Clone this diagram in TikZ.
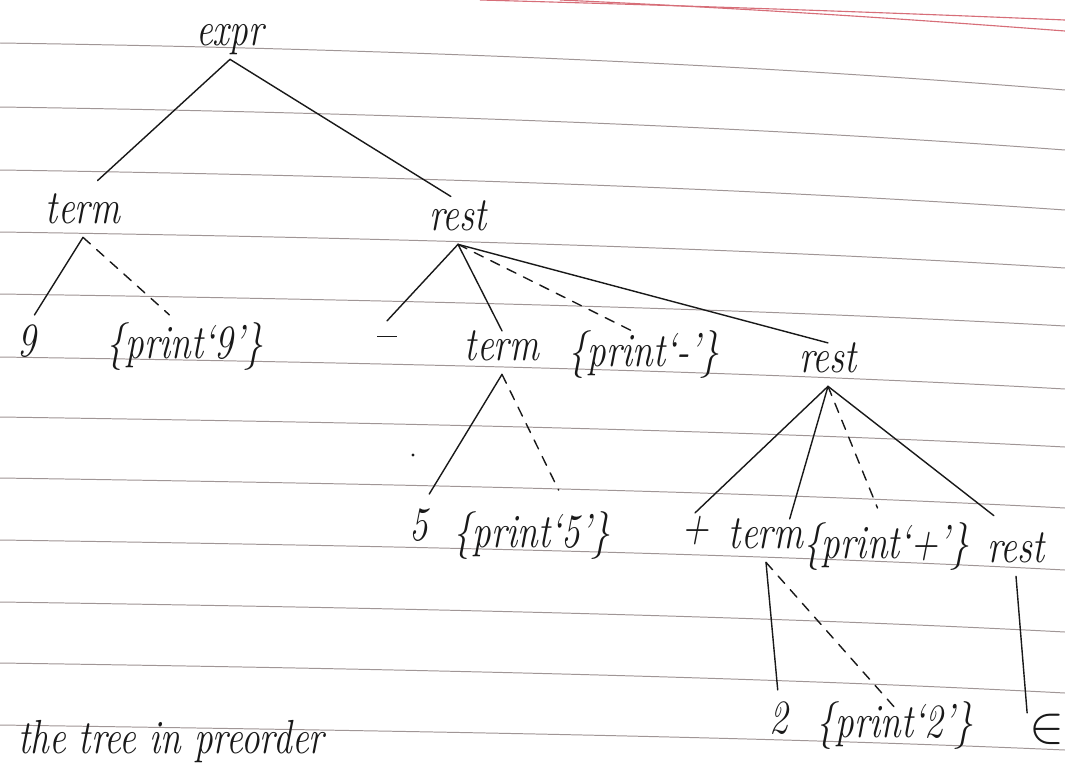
\documentclass[tikz,border=0pt]{standalone}
\usetikzlibrary{calc}
\definecolor{ink}{RGB}{25,25,25}
\definecolor{ruled}{RGB}{160,150,150}
\definecolor{marginred}{RGB}{215,110,120}
\newcommand\hs[1]{\scalebox{0.78}[1]{#1}}
\begin{document}
\begin{tikzpicture}[x=0.025cm,y=-0.025cm,
  hw/.style={font=\fontsize{34}{40}\selectfont\itshape, inner sep=1.5pt,
             text height=19pt, text depth=8.5pt, anchor=base, text=ink},
  edge/.style={draw=ink, line width=1pt, line cap=round},
  act/.style={edge, dash pattern=on 7pt off 6pt},
  rule/.style={draw=ruled, line width=0.7pt},
  redrule/.style={draw=marginred, line width=0.8pt}]
\useasboundingbox (0,0) rectangle (1065,764);
\clip (0,0) rectangle (1065,764);
\fill[white] (0,0) rectangle (1065,764);
% ruled paper
\foreach \y/\r in {43/47,107/43,170/40,232/36,294/32,357/32,417/30,478/30,540/30,602/30,663/30,725/25}
  \draw[rule] (0,\y) .. controls (400,{\y+6}) and (750,{\y+0.45*\r}) .. (1065,{\y+\r});
\draw[redrule] (480,0) .. controls (700,6) and (900,13) .. (1065,20);
\draw[redrule] (560,0) .. controls (760,9) and (920,20) .. (1065,31);

% nodes
\node[hw] (expr)  at (230,45)  {\hs{expr}};
\node[hw] (term1) at (83,223)  {\hs{term}};
\node[hw] (rest1) at (458,230) {\hs{rest}};
\node[hw] (nine)  at (27,356)  {\hs{9}};
\node[hw] (p9)    at (185,358) {\hs{\{print`9'\}}};
\node[hw] (minus) at (387,350) {\rule[9pt]{14pt}{1.1pt}};
\node[hw] (term2) at (502,360) {\hs{term}};
\node[hw] (pm)    at (644,366) {\hs{\{print`-'\}}};
\node[hw] (rest2) at (828,372) {\hs{rest}};
\node[hw] (five)  at (419,540) {\hs{5}};
\node[hw] (p5)    at (532,547) {\hs{\{print`5'\}}};
\node[hw] (plus)  at (695,542) {\hs{+}};
\node[hw] (term3) at (766,548) {\hs{term}};
\node[hw] (pp)    at (886,558) {\hs{\{print`+'\}}};
\node[hw] (rest3) at (1016,562) {\hs{rest}};
\node[hw] (two)   at (779,733) {\hs{2}};
\node[hw] (p2)    at (895,737) {\hs{\{print`2'\}}};
\node[hw] (eps)   at (1047,742) {\scalebox{1.5}{$\in$}};
\node[hw, anchor=base west, text depth=0pt, inner sep=0pt] (note) at (18,753) {\hs{the tree in preorder}};

% stray pen dot
\fill[ink] (413,455) circle (1.2pt);

% edges
\draw[edge, shorten >=14pt] (expr.south) -- (term1.north);
\draw[edge, shorten >=6pt]  (expr.south) -- (rest1.north);
\draw[edge, shorten >=10pt] (term1.south) -- (nine.north);
\draw[act, shorten >=15pt]  (term1.south) -- (p9.north);
\draw[edge] (rest1.south) -- (minus.north);
\draw[edge] (rest1.south) -- (term2.north);
\draw[act, shorten >=8pt] (rest1.south) -- (pm.north);
\draw[edge] (rest1.south) -- (rest2.north);
\draw[edge, shorten >=14pt] (term2.south) -- (five.north);
\draw[act, shorten >=22pt] (term2.south) -- ($(p5.north west)!0.75!(p5.north east)$);
\draw[edge] (rest2.south) -- (plus.north);
\draw[edge] (rest2.south) -- ($(term3.north west)!0.8!(term3.north east)$);
\draw[act, shorten >=16pt] (rest2.south) -- (pp.north);
\draw[edge, shorten >=20pt] (rest2.south) -- (rest3.north);
\draw[edge, shorten >=10pt] (term3.south) -- (two.north);
\draw[act] (term3.south) -- (p2.north);
\draw[edge] (rest3.south) -- (eps.north west);
\end{tikzpicture}
\end{document}
